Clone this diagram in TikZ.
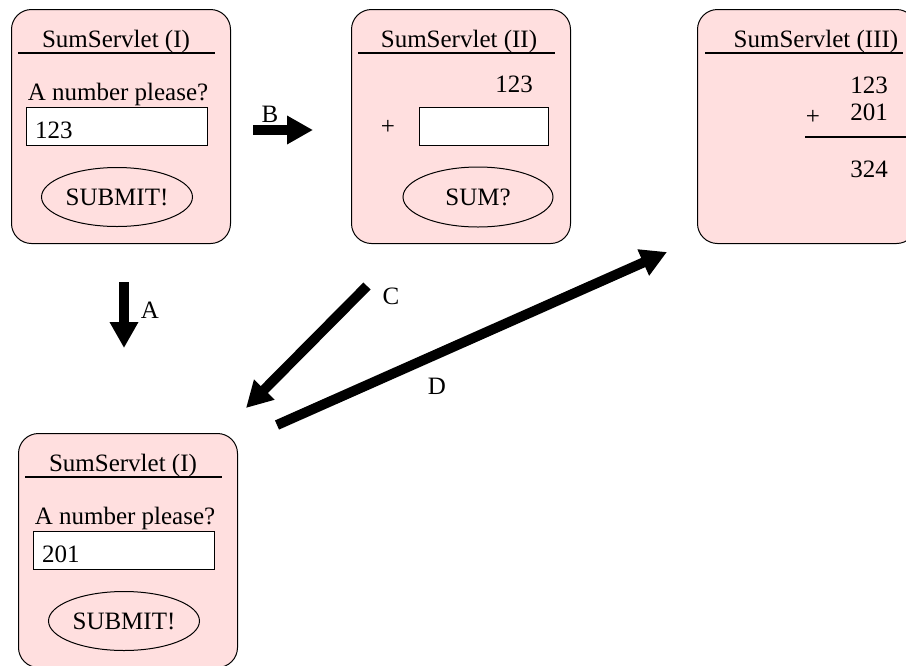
\documentclass[tikz,border=0pt]{standalone}
\usepackage{fontspec}
\setmainfont{Liberation Serif}
\usetikzlibrary{
  arrows.meta,
  positioning,
  shapes.geometric
}
\definecolor{pagefill}{HTML}{FFDFDF}

\begin{document}
\begin{tikzpicture}[
  x=1pt, y=-1pt,
  page/.style={draw, line width=1pt, fill=pagefill, rounded corners=20pt,
               minimum width=219pt, minimum height=234pt,
               anchor=north west, inner sep=0pt},
  txt/.style={font=\fontsize{25pt}{30pt}\selectfont, inner sep=0pt},
  field/.style={draw, line width=1pt, fill=white, anchor=north west,
                minimum width=181pt, minimum height=38pt, inner sep=0pt},
  btn/.style={draw, ellipse, line width=1pt, minimum width=151pt,
              minimum height=59pt},
  rule/.style={line width=2pt},
  flow/.style={line width=10pt, -{Triangle[length=26pt, width=27pt]}},
]
  \useasboundingbox (0,0) rectangle (906,665);
  \clip (0,0) rectangle (906,665);

  % Entry pages (I)
  \foreach \bx/\by/\val/\id in {11/9/123/1, 18/433/201/4} {
    \begin{scope}[shift={(\bx,\by)}]
      \node[page] (srv\id) at (0,0) {};
      \node[txt, anchor=base] (ttl\id) at (105,38) {SumServlet (I)};
      \draw[rule] (7,44) -- (204,44);
      \node[txt, anchor=base] (ask\id) at (107,91) {A number please?};
      \node[field] (in\id) at (15,98) {};
      \node[txt, anchor=base west] (val\id) at (24,129) {\val};
      \node[btn, txt] (go\id) at (106,188) {SUBMIT!};
    \end{scope}
  }

  % Second page (II)
  \begin{scope}[shift={(351,9)}]
    \node[page] (srv2) at (0,0) {};
    \node[txt, anchor=base] (ttl2) at (108,38) {SumServlet (II)};
    \draw[rule] (7,44) -- (204,44);
    \node[txt, anchor=base] (lhs2) at (163,83) {123};
    \node[txt] (plus2) at (37,118) {+};
    \node[field, minimum width=129pt] (in2) at (68,98) {};
    \node[btn, txt, minimum width=150pt, minimum height=60pt] (go2)
      at (127,188) {SUM?};
  \end{scope}

  % Result page (III)
  \begin{scope}[shift={(697,9)}]
    \node[page] (srv3) at (0,0) {};
    \node[txt, anchor=base] (ttl3) at (119,38) {SumServlet (III)};
    \draw[rule] (8,44) -- (206,44);
    \node[txt, anchor=base] (lhs3) at (172,84) {123};
    \node[txt] (plus3) at (116,108) {+};
    \node[txt, anchor=base] (rhs3) at (172,111) {201};
    \draw[line width=1.5pt] (108,128) -- (230,128);
    \node[txt, anchor=base] (sum3) at (172,168) {324};
  \end{scope}

  % Transitions
  \coordinate (a0) at (124,282);  \coordinate (a1) at (124,348);
  \coordinate (b0) at (253,130);  \coordinate (b1) at (313,130);
  \coordinate (c0) at (367,286);  \coordinate (c1) at (246,408);
  \coordinate (d0) at (277,425);  \coordinate (d1) at (667,252);
  \draw[flow] (a0) -- (a1);
  \draw[flow] (b0) -- (b1);
  \draw[flow] (c0) -- (c1);
  \draw[flow] (d0) -- (d1);
  \node[txt] (lblA) at (150,310) {A};
  \node[txt] (lblB) at (270,114) {B};
  \node[txt] (lblC) at (391,296) {C};
  \node[txt] (lblD) at (437,386) {D};

\end{tikzpicture}
\end{document}
